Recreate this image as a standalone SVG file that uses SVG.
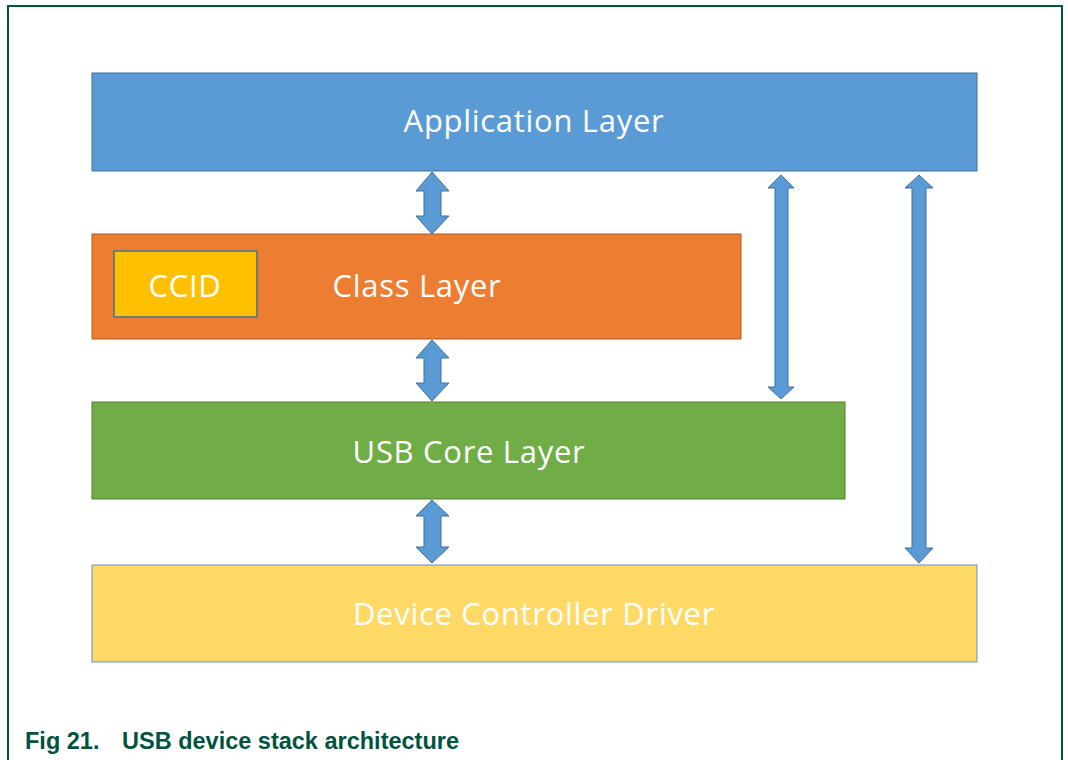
<svg xmlns="http://www.w3.org/2000/svg" width="1068" height="760" viewBox="0 0 1068 760">
<style>
.frame{stroke:#00533F;stroke-width:2;fill:none}
.lbl{font-family:"Open Sans","Noto Sans",sans-serif;font-size:31px;letter-spacing:0.7px;fill:#ffffff;text-anchor:middle}
.arrow{fill:#5B9BD5;stroke:#41719C;stroke-width:1}
.cap{font-family:"Liberation Sans",Arial,sans-serif;font-size:23.5px;font-weight:bold;fill:#00533F}
</style>
<rect width="1068" height="760" fill="#ffffff"/>
<path class="frame" d="M8,760 V6 H1062 V760"/>
<g id="app"><rect x="92" y="73" width="885" height="98" fill="#5B9BD5" stroke="#41719C"/><text class="lbl" x="534" y="132">Application Layer</text></g>
<g id="class"><rect x="92" y="234" width="649" height="105" fill="#ED7D31" stroke="#AE5A21"/><text class="lbl" x="417" y="297">Class Layer</text></g>
<g id="ccid"><rect x="114" y="251" width="143" height="66" fill="#FFC000" stroke="#41719C" stroke-width="1.5"/><text class="lbl" x="185" y="297">CCID</text></g>
<g id="core"><rect x="92" y="402" width="753" height="97" fill="#70AD47" stroke="#507E32"/><text class="lbl" x="469" y="463">USB Core Layer</text></g>
<g id="dcd"><rect x="92" y="565" width="885" height="97" fill="#FFD966" stroke="#6D8EBF"/><text class="lbl" x="534" y="625">Device Controller Driver</text></g>
<g id="connectors">
<path class="arrow" d="M432,172 L449,191 L441,191 L441,216 L449,216 L432,234 L416,216 L424,216 L424,191 L416,191 Z"/>
<path class="arrow" d="M432,340 L449,358 L441,358 L441,383 L449,383 L432,401 L416,383 L424,383 L424,358 L416,358 Z"/>
<path class="arrow" d="M432,500 L449,516 L441,516 L441,547 L449,547 L432,563 L416,547 L424,547 L424,516 L416,516 Z"/>
<path class="arrow" d="M781,175 L794,188 L788,188 L788,387 L794,387 L781,399 L768,387 L775,387 L775,188 L768,188 Z"/>
<path class="arrow" d="M919,175 L933,188 L926,188 L926,548 L933,548 L919,563 L905,548 L912,548 L912,188 L905,188 Z"/>
</g>
<text class="cap" x="25" y="749">Fig 21.</text>
<text class="cap" x="122" y="749">USB device stack architecture</text>
</svg>
